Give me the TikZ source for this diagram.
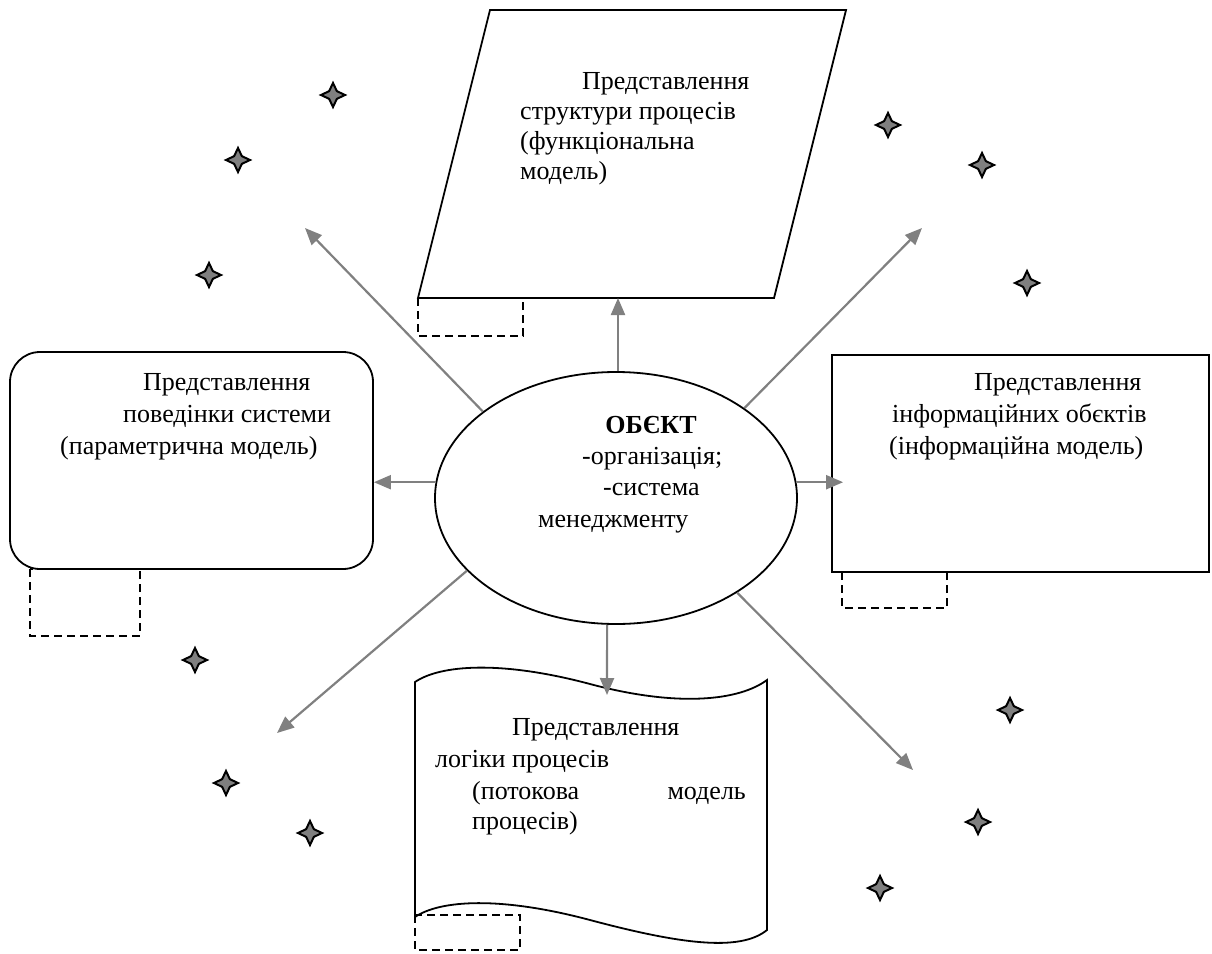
\documentclass[tikz,border=0pt]{standalone}
\usepackage{fontspec}
\setmainfont{Liberation Serif}
\usetikzlibrary{shapes.geometric,arrows.meta}
\definecolor{linkgray}{HTML}{808080}
\definecolor{sparkgray}{HTML}{7F7F7F}
\begin{document}
\begin{tikzpicture}[x=1pt,y=-1pt,
  outline/.style={draw=black,line width=1.8pt},
  slot/.style={draw=black,line width=1.6pt,dash pattern=on 8pt off 5pt},
  link/.style={draw=linkgray,line width=2.2pt,-{Triangle[length=17pt,width=14pt]}},
  txt/.style={anchor=base west,inner sep=0pt,font=\fontsize{26}{31}\selectfont},
  spark/.style={star,star points=4,star point ratio=2.2,minimum size=24pt,inner sep=0pt,
                fill=sparkgray,draw=black,line width=2pt}]
\useasboundingbox (0,0) rectangle (1212,953);

% dashed tabs under the shapes
\draw[slot] (418,298) rectangle (523,336);
\draw[slot] (30,569) rectangle (140,636);
\draw[slot] (842,572) rectangle (947,608);
\draw[slot] (415,915) rectangle (520,950);

% functional model: parallelogram
\draw[outline,fill=white] (490,10) -- (846,10) -- (774,298) -- (418,298) -- cycle;
\coordinate (funcbase) at (618,298);
\node[txt] (f1) at (582,89) {Представлення};
\node[txt] (f2) at (520,119) {структури процесів};
\node[txt] (f3) at (520,149) {(функціональна};
\node[txt] (f4) at (520,179) {модель)};

% parametric model: rounded box
\node[outline,rounded corners=30pt,minimum width=363pt,minimum height=217pt,inner sep=0pt]
  (beh) at (191.5,460.5) {};
\node[txt] (b1) at (143,390) {Представлення};
\node[txt] (b2) at (123,422) {поведінки системи};
\node[txt] (b3) at (60,454) {(параметрична модель)};

% information model: plain box
\node[outline,minimum width=377pt,minimum height=217pt,inner sep=0pt]
  (info) at (1020.5,463.5) {};
\node[txt] (i1) at (974,390) {Представлення};
\node[txt] (i2) at (892,422) {інформаційних обєктів};
\node[txt] (i3) at (889,454) {(інформаційна модель)};

% flow model: punched tape
\draw[outline] (415,682) .. controls (440,665) and (500,660) .. (590,684)
  .. controls (680,708) and (740,700) .. (767,680) -- (767,930)
  .. controls (740,952) and (680,944) .. (590,920)
  .. controls (500,896) and (440,900) .. (415,917) -- cycle;
\coordinate (tapetop) at (607,695);
\node[txt] (p1) at (512,735) {Представлення};
\node[txt] (p2) at (435,767) {логіки процесів};
\node[txt] (p3) at (472,799) {(потокова};
\node[txt,anchor=base east] (p4) at (746,799) {модель};
\node[txt] (p5) at (472,829) {процесів)};

% the object in the middle
\node[outline,ellipse,minimum width=362pt,minimum height=252pt,inner sep=0pt]
  (obj) at (616,498) {};
\node[txt,anchor=base,font=\fontsize{26}{31}\selectfont\bfseries] (o1) at (651,433) {ОБЄКТ};
\node[txt] (o2) at (582,464) {-організація;};
\node[txt] (o3) at (603,495) {-система};
\node[txt] (o4) at (538,527) {менеджменту};

% free ends of the open arrows
\coordinate (ulend) at (305,228);
\coordinate (urend) at (922,228);
\coordinate (llend) at (277,733);
\coordinate (lrend) at (913,770);

% arrows
\draw[link] (obj.north -| funcbase) -- (funcbase);
\draw[link] (obj.266) -- (tapetop);
\draw[link] (obj.175) -- (obj.175 -| beh.east);
\draw[link] (obj.5) -- ([xshift=12pt]obj.5 -| info.west);
\draw[link] (obj.147) -- (ulend);
\draw[link] (obj.35) -- (urend);
\draw[link] (obj.206) -- (llend);
\draw[link] (obj.322) -- (lrend);

% sparkles
\node[spark] (s1) at (333,95) {};
\node[spark] (s2) at (238,160) {};
\node[spark] (s3) at (209,275) {};
\node[spark] (s4) at (888,125) {};
\node[spark] (s5) at (982,165) {};
\node[spark] (s6) at (1027,283) {};
\node[spark] (s7) at (195,660) {};
\node[spark] (s8) at (226,783) {};
\node[spark] (s9) at (310,833) {};
\node[spark] (s10) at (1010,710) {};
\node[spark] (s11) at (978,822) {};
\node[spark] (s12) at (880,888) {};
\end{tikzpicture}
\end{document}
